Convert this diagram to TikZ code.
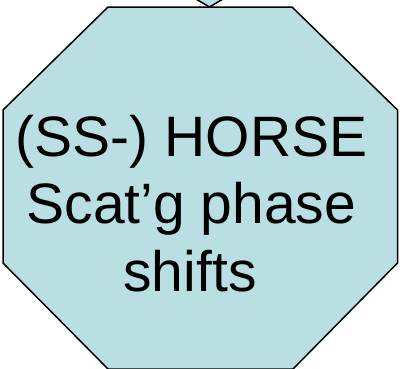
\documentclass[tikz,border=0pt]{standalone}
\usepackage{fontspec}
\setmainfont{Liberation Sans}
\definecolor{octfill}{RGB}{186,223,226}
\begin{document}
\begin{tikzpicture}[x=1pt,y=-1pt,
  octline/.style={draw=black,line width=1.5pt,fill=octfill,line join=miter},
  txt/.style={anchor=base,inner sep=0pt,font=\fontsize{57}{67.5}\selectfont}]
\useasboundingbox (0,0) rectangle (402,368);
% octagon
\path[octline] (108,7) -- (292,7) -- (397.5,110) -- (397.5,263) -- (293,369) -- (108,369) -- (3,263) -- (3,110) -- cycle;
% arrow tip entering from above
\coordinate (tip) at (209.5,7);
\path[octline] (196,-1) -- (tip) -- (223,-1);
% text
\node[txt] (l1) at (191.5,156) {(SS-) HORSE};
\node[txt] (l2) at (191.5,223.5) {Scat’g phase};
\node[txt] (l3) at (190,291) {shifts};
\end{tikzpicture}
\end{document}
